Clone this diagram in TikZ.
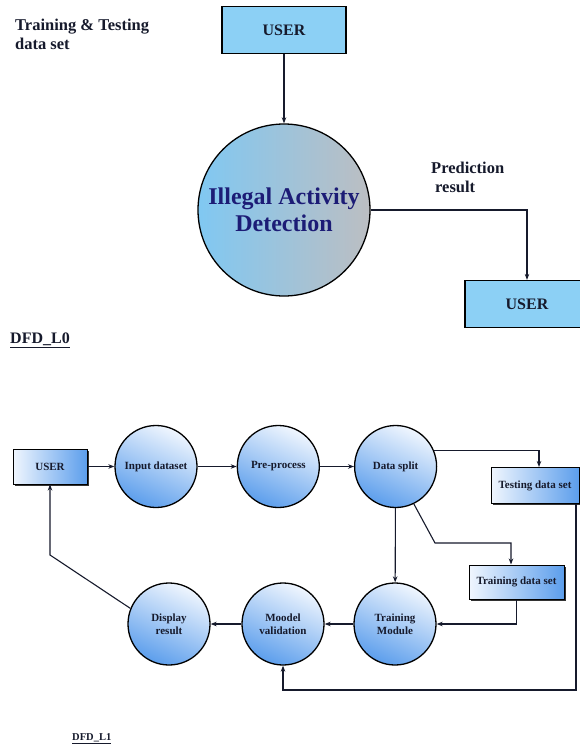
\documentclass[tikz,border=0pt]{standalone}
\usepackage{fontspec}
\setmainfont{Liberation Serif}
\usetikzlibrary{positioning,arrows.meta,shadows}

\definecolor{skyfill}{RGB}{140,208,245}
\definecolor{procleft}{RGB}{128,200,242}
\definecolor{procright}{RGB}{188,190,194}
\definecolor{navytext}{RGB}{28,28,118}
\definecolor{deepink}{RGB}{22,26,44}
\definecolor{flowlight}{RGB}{240,246,254}
\definecolor{flowdark}{RGB}{92,158,236}

\begin{document}
\begin{tikzpicture}[
    x=1pt, y=-1pt,
    extbox/.style={draw, line width=1.2pt, fill=skyfill, minimum width=124pt, minimum height=47pt, font=\fontsize{16}{18}\selectfont\bfseries, text=deepink},
    bigproc/.style={circle, draw, line width=1.3pt, minimum size=172pt, inner sep=0pt, left color=procleft, right color=procright, font=\fontsize{24}{27}\selectfont\bfseries, text=navytext, align=center},
    flowbox/.style={draw, line width=1pt, left color=flowlight, right color=flowdark, drop shadow={shadow xshift=1.8pt, shadow yshift=-1.8pt, fill=black!80, opacity=1}, font=\fontsize{11}{12}\selectfont\bfseries, text=deepink, inner sep=0pt},
    flowproc/.style={circle, draw, line width=1.3pt, minimum size=82pt, inner sep=0pt, left color=flowlight, right color=flowdark, shading angle=-25, font=\fontsize{11}{13}\selectfont\bfseries, text=deepink, align=center},
    note/.style={font=\fontsize{16.5}{19}\selectfont\bfseries, text=deepink, align=left, anchor=north west, inner sep=0pt},
    arrow/.style={-{Stealth[length=6pt,width=4.5pt]}, line width=1.1pt, draw=deepink}
]
\fill[white] (0,0) rectangle (579,746);
\useasboundingbox (0,0) rectangle (579,746);

% DFD level 0
\node[note] (dataset) at (15,19) {Training \& Testing\\data set};
\node[extbox] (user1) at (284,30) {USER};
\node[bigproc] (detect) at (284,210) {Illegal Activity\\Detection};
\node[note] (predres) at (431,162) {Prediction\\\hspace{4pt}result};
\node[extbox] (user2) at (527,304) {USER};
\node[note, font=\fontsize{16}{18}\selectfont\bfseries] (lvl0) at (10,333) {\underline{DFD\_L0}};

\draw[arrow] (user1) -- (detect);
\draw[arrow] (detect.east) -| (user2.north);

% DFD level 1, top row
\node[flowbox, minimum width=74pt, minimum height=35pt] (user3) at (50,466.5) {USER};
\node[flowproc] (input) at (156,466.5) {Input dataset};
\node[flowproc, right=39pt of input] (prep) {Pre-process};
\node[flowproc, right=34pt of prep] (split) {Data split};

% data sets
\node[flowbox, minimum width=88pt, minimum height=36pt] (testset) at (535,485.5) {Testing data set};
\node[flowbox, minimum width=95pt, minimum height=34pt] (trainset) at (516.5,582) {Training data set};

% bottom row
\node[flowproc] (trmod) at (395,624) {Training\\Module};
\node[flowproc] (valid) at (283,624) {Moodel\\validation};
\node[flowproc] (disp) at (169,624) {Display\\result};
\node[note, font=\fontsize{10.5}{12}\selectfont\bfseries] (lvl1) at (72,733) {\underline{DFD\_L1}};

% bends
\coordinate (bendA) at (50,555);
\coordinate (bendB) at (435,543);
\coordinate (bendC) at (576,690);

\draw[arrow] (user3) -- (input);
\draw[arrow] (input) -- (prep);
\draw[arrow] (prep) -- (split);
\draw[arrow] (split.22) -| ([xshift=4pt]testset.north);
\draw[arrow] (split.-64) -- (bendB) -| ([xshift=-5.5pt]trainset.north);
\draw[arrow] (split) -- (trmod);
\draw[arrow] (trainset.south) |- (trmod.east);
\draw[arrow] (trmod) -- (valid);
\draw[arrow] (valid) -- (disp);
\draw[arrow] (disp.158) -- (bendA) -- (user3.south);
\draw[arrow] ([xshift=41pt]testset.south) -- (bendC) -| (valid.south);

\end{tikzpicture}
\end{document}
